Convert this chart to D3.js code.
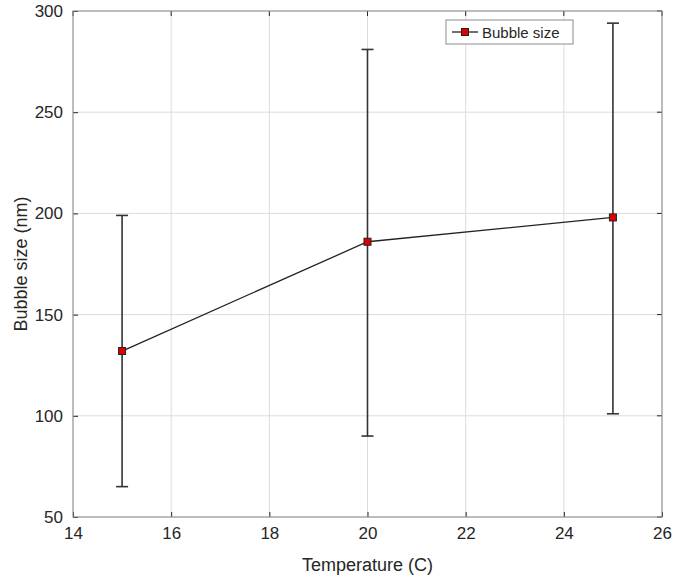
<!DOCTYPE html>
<html><head><meta charset="utf-8">
<script src="https://cdn.jsdelivr.net/npm/d3@7"></script>
<style>body{margin:0;background:#fff;}svg{display:block;font-family:"Liberation Sans",Arial,sans-serif;}</style>
</head><body>
<svg id="c" width="673" height="577"></svg>
<script>
const temperatures = [15, 20, 25];
const bubbleSize = [132, 186, 198];
const errUpper = [199, 281, 294];
const errLower = [65, 90, 101];
const xTicks = [14, 16, 18, 20, 22, 24, 26];
const yTicks = [50, 100, 150, 200, 250, 300];
const seriesName = "Bubble size";

const svg = d3.select("#c");
const L = 73, R = 662, T = 11, B = 517;
const x = d3.scaleLinear().domain([14, 26]).range([L, R]);
const y = d3.scaleLinear().domain([50, 300]).range([B, T]);

// grid
svg.append("g").selectAll("line").data(xTicks).join("line")
  .attr("x1", d => x(d)).attr("x2", d => x(d)).attr("y1", T).attr("y2", B)
  .attr("stroke", "#dcdcdc").attr("stroke-width", 1);
svg.append("g").selectAll("line").data(yTicks).join("line")
  .attr("y1", d => y(d)).attr("y2", d => y(d)).attr("x1", L).attr("x2", R)
  .attr("stroke", "#dcdcdc").attr("stroke-width", 1);

// axes
const xa = svg.append("g").attr("transform", `translate(0,${B})`)
  .call(d3.axisBottom(x).tickValues(xTicks).tickSize(-5).tickPadding(10));
const ya = svg.append("g").attr("transform", `translate(${L},0)`)
  .call(d3.axisLeft(y).tickValues(yTicks).tickSize(-5).tickPadding(10));
[xa, ya].forEach(a => {
  a.select(".domain").remove();
  a.selectAll(".tick line").attr("stroke", "#262626");
  a.selectAll(".tick text").attr("fill", "#262626").style("font-size", "17px")
   .style("font-family", '"Liberation Sans",Arial,sans-serif');
});
// top/right ticks
svg.append("g").selectAll("line").data(xTicks).join("line")
  .attr("x1", d => x(d)).attr("x2", d => x(d)).attr("y1", T).attr("y2", T + 5).attr("stroke", "#262626");
svg.append("g").selectAll("line").data(yTicks).join("line")
  .attr("y1", d => y(d)).attr("y2", d => y(d)).attr("x1", R).attr("x2", R - 5).attr("stroke", "#262626");

// box
svg.append("rect").attr("x", L).attr("y", T).attr("width", R - L).attr("height", B - T)
  .attr("fill", "none").attr("stroke", "#8c8c8c").attr("stroke-width", 1);

// error bars
const eb = svg.append("g").attr("stroke", "#333").attr("stroke-width", 1.6);
temperatures.forEach((t, i) => {
  eb.append("line").attr("x1", x(t)).attr("x2", x(t)).attr("y1", y(errLower[i])).attr("y2", y(errUpper[i]));
  [errLower[i], errUpper[i]].forEach(v => {
    eb.append("line").attr("x1", x(t) - 6).attr("x2", x(t) + 6).attr("y1", y(v)).attr("y2", y(v));
  });
});

// line
const pts = temperatures.map((t, i) => [t, bubbleSize[i]]);
svg.append("path").datum(pts)
  .attr("d", d3.line().x(d => x(d[0])).y(d => y(d[1])))
  .attr("fill", "none").attr("stroke", "#222").attr("stroke-width", 1.3);
svg.append("g").selectAll("rect").data(pts).join("rect")
  .attr("x", d => x(d[0]) - 3.5).attr("y", d => y(d[1]) - 3.5)
  .attr("width", 7).attr("height", 7).attr("fill", "#e00000").attr("stroke", "#222").attr("stroke-width", 1);

// legend
const lg = svg.append("g");
lg.append("rect").attr("x", 446).attr("y", 20).attr("width", 127).attr("height", 24)
  .attr("fill", "#fff").attr("stroke", "#8c8c8c");
lg.append("line").attr("x1", 452).attr("x2", 478).attr("y1", 32).attr("y2", 32).attr("stroke", "#222").attr("stroke-width", 1.3);
lg.append("rect").attr("x", 461.5).attr("y", 28.5).attr("width", 7).attr("height", 7)
  .attr("fill", "#e00000").attr("stroke", "#222");
lg.append("text").attr("x", 482).attr("y", 38).text(seriesName)
  .attr("fill", "#262626").style("font-size", "15px");

// labels
svg.append("text").attr("x", (L + R) / 2).attr("y", 571).attr("text-anchor", "middle")
  .attr("fill", "#262626").style("font-size", "18px").text("Temperature (C)");
svg.append("text").attr("transform", `translate(27,${(T + B) / 2}) rotate(-90)`).attr("text-anchor", "middle")
  .attr("fill", "#262626").style("font-size", "18px").text("Bubble size (nm)");
</script>
</body></html>
